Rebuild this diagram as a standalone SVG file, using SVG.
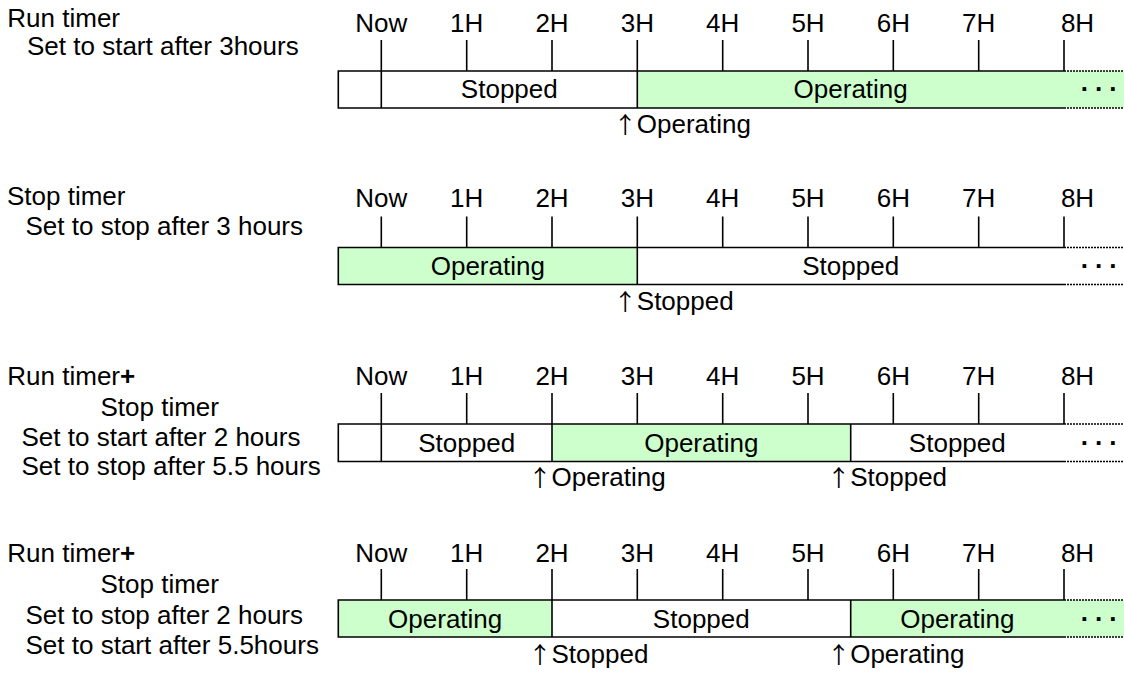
<svg xmlns="http://www.w3.org/2000/svg" width="1124" height="673" viewBox="0 0 1124 673">
<style>
text{font-family:"Liberation Sans",Arial,sans-serif;font-size:26px;fill:#000}
.c{text-anchor:middle}
.ar{font-family:"Noto Sans CJK JP","DejaVu Sans",sans-serif;font-size:23px;text-anchor:middle}
.on{fill:#CCFFCC;stroke:none}
.off{fill:#FFFFFF;stroke:none}
.ln{stroke:#000;stroke-width:1.6;fill:none}
.dt{stroke:#000;stroke-width:1.6;fill:none;stroke-dasharray:2 1}
.dots{letter-spacing:7.1px;font-weight:bold}
</style>
<rect x="0" y="0" width="1124" height="673" fill="#fff"/>

<!-- Row 1 -->
<g id="row1-label">
<text x="7.3" y="27">Run timer</text>
<text x="27" y="55">Set to start after 3hours</text>
</g>
<g id="row1-axis">
<text class="c" x="381.3" y="32">Now</text><text class="c" x="466.7" y="32">1H</text><text class="c" x="552" y="32">2H</text><text class="c" x="637.3" y="32">3H</text><text class="c" x="722.7" y="32">4H</text><text class="c" x="808" y="32">5H</text><text class="c" x="893.3" y="32">6H</text><text class="c" x="978.7" y="32">7H</text><text class="c" x="1077.5" y="32">8H</text>
<path class="ln" d="M381.3 40V71M466.7 40V71M552 40V71M637.3 40V71M722.7 40V71M808 40V71M893.3 40V71M978.7 40V71M1064 40V71"/>
</g>
<g id="row1-bar">
<rect class="off" x="338.3" y="71" width="299" height="37"/>
<rect class="on" x="637.3" y="71" width="486.7" height="37"/>
<path class="ln" d="M1064 71H338.3V108H1064M381.3 71V108M637.3 71V108"/>
<path class="dt" d="M1064 71H1124M1064 108H1124"/>
<text class="c" x="509.3" y="98">Stopped</text>
<text class="c" x="850.7" y="98">Operating</text>
<text class="dots" x="1080.7" y="91">...</text>
<text class="ar" x="625.3" y="133">↑</text>
<text x="636.8" y="133">Operating</text>
</g>

<!-- Row 2 -->
<g id="row2-label">
<text x="7" y="205">Stop timer</text>
<text x="25.5" y="235">Set to stop after 3 hours</text>
</g>
<g id="row2-axis">
<text class="c" x="381.3" y="207">Now</text><text class="c" x="466.7" y="207">1H</text><text class="c" x="552" y="207">2H</text><text class="c" x="637.3" y="207">3H</text><text class="c" x="722.7" y="207">4H</text><text class="c" x="808" y="207">5H</text><text class="c" x="893.3" y="207">6H</text><text class="c" x="978.7" y="207">7H</text><text class="c" x="1077.5" y="207">8H</text>
<path class="ln" d="M381.3 216.5V247.5M466.7 216.5V247.5M552 216.5V247.5M637.3 216.5V247.5M722.7 216.5V247.5M808 216.5V247.5M893.3 216.5V247.5M978.7 216.5V247.5M1064 216.5V247.5"/>
</g>
<g id="row2-bar">
<rect class="on" x="338.3" y="247.5" width="299" height="37"/>
<rect class="off" x="637.3" y="247.5" width="486.7" height="37"/>
<path class="ln" d="M1064 247.5H338.3V284.5H1064M637.3 247.5V284.5"/>
<path class="dt" d="M1064 247.5H1124M1064 284.5H1124"/>
<text class="c" x="487.8" y="275">Operating</text>
<text class="c" x="850.7" y="275">Stopped</text>
<text class="dots" x="1080.7" y="268">...</text>
<text class="ar" x="625.3" y="310">↑</text>
<text x="636.8" y="310">Stopped</text>
</g>

<!-- Row 3 -->
<g id="row3-label">
<text x="7.3" y="385">Run timer<tspan font-weight="bold">+</tspan></text>
<text x="100.5" y="416">Stop timer</text>
<text x="21.5" y="446">Set to start after 2 hours</text>
<text x="21.5" y="475">Set to stop after 5.5 hours</text>
</g>
<g id="row3-axis">
<text class="c" x="381.3" y="385">Now</text><text class="c" x="466.7" y="385">1H</text><text class="c" x="552" y="385">2H</text><text class="c" x="637.3" y="385">3H</text><text class="c" x="722.7" y="385">4H</text><text class="c" x="808" y="385">5H</text><text class="c" x="893.3" y="385">6H</text><text class="c" x="978.7" y="385">7H</text><text class="c" x="1077.5" y="385">8H</text>
<path class="ln" d="M381.3 393V424M466.7 393V424M552 393V424M637.3 393V424M722.7 393V424M808 393V424M893.3 393V424M978.7 393V424M1064 393V424"/>
</g>
<g id="row3-bar">
<rect class="off" x="338.3" y="424" width="213.7" height="37.5"/>
<rect class="on" x="552" y="424" width="298.7" height="37.5"/>
<rect class="off" x="850.7" y="424" width="273.3" height="37.5"/>
<path class="ln" d="M1064 424H338.3V461.5H1064M381.3 424V461.5M552 424V461.5M850.7 424V461.5"/>
<path class="dt" d="M1064 424H1124M1064 461.5H1124"/>
<text class="c" x="466.7" y="452">Stopped</text>
<text class="c" x="701.3" y="452">Operating</text>
<text class="c" x="957.3" y="452">Stopped</text>
<text class="dots" x="1080.7" y="445">...</text>
<text class="ar" x="540" y="486">↑</text>
<text x="551.5" y="486">Operating</text>
<text class="ar" x="838.7" y="486">↑</text>
<text x="850.2" y="486">Stopped</text>
</g>

<!-- Row 4 -->
<g id="row4-label">
<text x="7.3" y="561.5">Run timer<tspan font-weight="bold">+</tspan></text>
<text x="100.5" y="593">Stop timer</text>
<text x="25.5" y="624">Set to stop after 2 hours</text>
<text x="25.5" y="654">Set to start after 5.5hours</text>
</g>
<g id="row4-axis">
<text class="c" x="381.3" y="561.5">Now</text><text class="c" x="466.7" y="561.5">1H</text><text class="c" x="552" y="561.5">2H</text><text class="c" x="637.3" y="561.5">3H</text><text class="c" x="722.7" y="561.5">4H</text><text class="c" x="808" y="561.5">5H</text><text class="c" x="893.3" y="561.5">6H</text><text class="c" x="978.7" y="561.5">7H</text><text class="c" x="1077.5" y="561.5">8H</text>
<path class="ln" d="M381.3 569V600M466.7 569V600M552 569V600M637.3 569V600M722.7 569V600M808 569V600M893.3 569V600M978.7 569V600M1064 569V600"/>
</g>
<g id="row4-bar">
<rect class="on" x="338.3" y="600" width="213.7" height="37"/>
<rect class="off" x="552" y="600" width="298.7" height="37"/>
<rect class="on" x="850.7" y="600" width="273.3" height="37"/>
<path class="ln" d="M1064 600H338.3V637H1064M552 600V637M850.7 600V637"/>
<path class="dt" d="M1064 600H1124M1064 637H1124"/>
<text class="c" x="445.2" y="628">Operating</text>
<text class="c" x="701.3" y="628">Stopped</text>
<text class="c" x="957.3" y="628">Operating</text>
<text class="dots" x="1080.7" y="621">...</text>
<text class="ar" x="540" y="663">↑</text>
<text x="551.5" y="663">Stopped</text>
<text class="ar" x="838.7" y="663">↑</text>
<text x="850.2" y="663">Operating</text>
</g>
</svg>
